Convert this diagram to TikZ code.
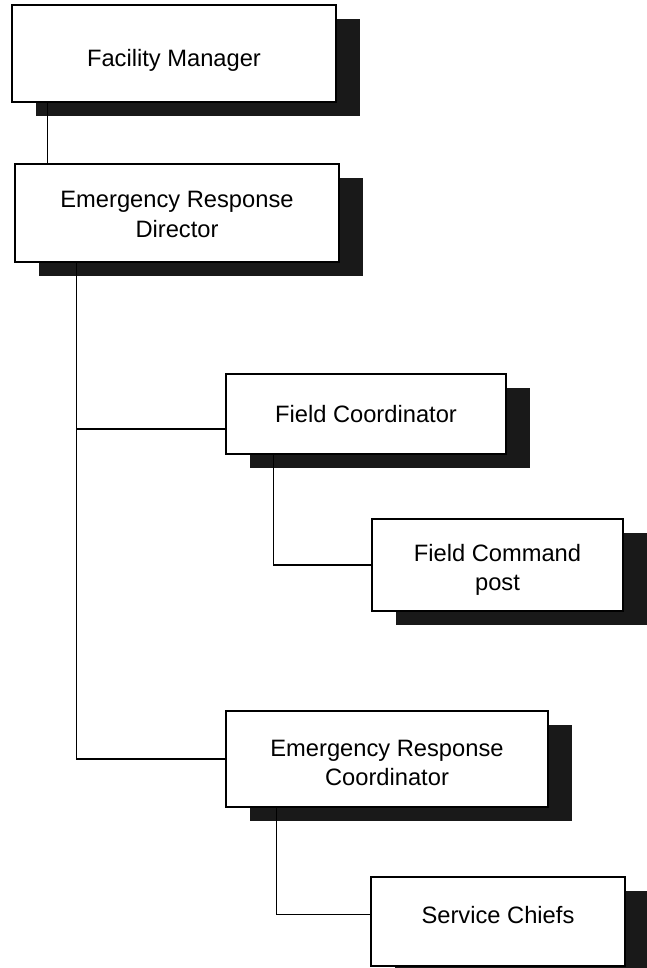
\documentclass[tikz,border=0pt]{standalone}
\usepackage{fontspec}
\setmainfont{Liberation Sans}
\usepackage{tikz}
\usetikzlibrary{shadows}

\begin{document}
\begin{tikzpicture}[x=1pt,y=-1pt,
    box/.style={draw, line width=1.2pt, fill=white, align=center, inner sep=0pt,
        font=\fontsize{23.7}{29}\selectfont, text height=17pt, text depth=0pt,
        general shadow={fill=black!90, shadow xshift=24pt, shadow yshift=-14pt}},
    link/.style={line width=1.2pt}]
    \useasboundingbox (0, 0) rectangle (647, 968);
    % Boxes
    \node[box, minimum width=324pt, minimum height=97pt, text height=27pt] (fm) at (174, 53.5) {Facility Manager};
    \node[box, minimum width=324pt, minimum height=98pt, text height=48pt] (erd) at (177, 213) {Emergency Response\\Director};
    \node[box, minimum width=280pt, minimum height=80pt] (fc) at (366, 414) {Field Coordinator};
    \node[box, minimum width=251pt, minimum height=92pt, text height=50pt] (fcp) at (497.5, 565) {Field Command\\post};
    \node[box, minimum width=322pt, minimum height=96pt, text height=52pt] (erc) at (387, 759) {Emergency Response\\Coordinator};
    \node[box, minimum width=254pt, minimum height=89pt, text depth=14pt] (sc) at (498, 921.5) {Service Chiefs};
    %
    % Lines:
    \draw[link] ([xshift=36pt]fm.south west) -- ([xshift=36pt]fm.south west |- erd.north);
    \draw[link] ([xshift=62pt]erd.south west) |- ([yshift=-15pt]fc.west);
    \draw[link] ([xshift=62pt]erd.south west) |- (erc.west);
    \draw[link] ([xshift=48pt]fc.south west) |- (fcp.west);
    \draw[link] ([xshift=51pt]erc.south west) |- ([yshift=7pt]sc.west);
\end{tikzpicture}
\end{document}
